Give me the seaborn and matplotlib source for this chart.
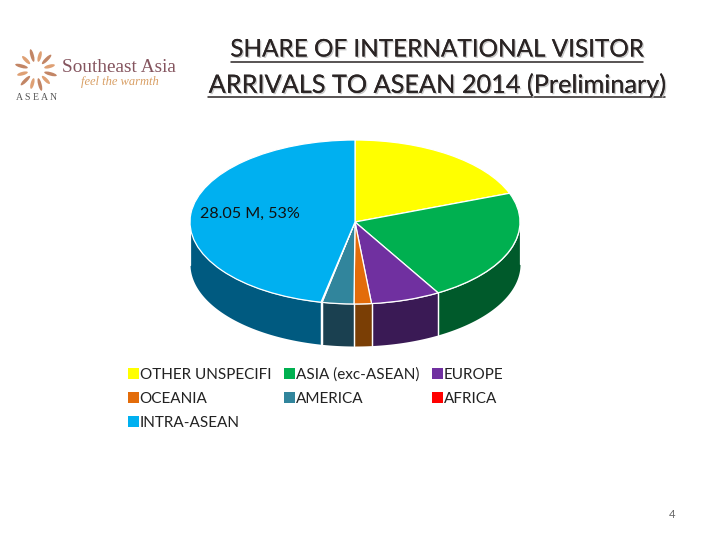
import numpy as np
import matplotlib
matplotlib.use("Agg")
import matplotlib.pyplot as plt
import matplotlib.patheffects as pe
from matplotlib.patches import Ellipse
import seaborn as sns

# ── Data ──────────────────────────────────────────────────────────────────
regions = ['OTHER UNSPECIFI', 'ASIA (exc-ASEAN)', 'EUROPE', 'OCEANIA',
           'AMERICA', 'AFRICA', 'INTRA-ASEAN']
# slice shares as drawn in the picture (3D view squeezes the back slices)
shares = [19.3, 22.3, 6.8, 1.7, 3.1, 0.1, 46.7]
colors = ['#FFFF00', '#00B050', '#7030A0', '#E36C0A', '#31859C', '#FF0000', '#00B0F0']
side_colors = ['#8C8C00', '#005A2B', '#3A1A55', '#7A3E05', '#1A4050', '#7A1010', '#005A80']
slice_label = '28.05 M, 53%'
title_lines = ['SHARE OF INTERNATIONAL VISITOR', 'ARRIVALS TO ASEAN 2014 (Preliminary)']
page_number = '4'

sns.set_theme(style='white')
plt.rcParams['font.family'] = ['Lato', 'DejaVu Sans']

W, H = 720, 540
fig = plt.figure(figsize=(7.2, 5.4), dpi=100, facecolor='white')

# ── Pie: top face plus the walls below it ─────────────────────────────────
cx, cy, rx, ry, depth = 355, 222, 165, 82, 42
xpad, ytop, ybot = 1.1, 1.1, 1.7
ax = fig.add_axes([(cx - rx * xpad) / W, 1 - (cy + ry * ybot) / H,
                   2 * rx * xpad / W, ry * (ytop + ybot) / H])
wedges, _ = ax.pie(shares, colors=colors, startangle=90, counterclock=False,
                   wedgeprops={'edgecolor': 'white', 'linewidth': 0.9, 'zorder': 3})
for w in wedges:
    w.set_zorder(3)
ax.set_aspect('auto')
ax.set_xlim(-xpad, xpad)
ax.set_ylim(-ybot, ytop)
ax.axis('off')

wall = depth / ry
ends = 90 - np.cumsum(shares) * 3.6
starts = np.r_[90, ends[:-1]]
for a0, a1, c in zip(starts, ends, side_colors):
    # visible wall is only the front half of the rim (180..360 deg)
    lo, hi = np.radians(a1 % 360), np.radians(a1 % 360 + (a0 - a1))
    t = np.linspace(lo, hi, 200)
    t = t[np.sin(t) < 0]
    if len(t) < 2:
        continue
    ax.fill_between(np.cos(t), np.sin(t), np.sin(t) - wall, color=c, lw=0, zorder=1)
    for e in (t[0], t[-1]):
        ax.plot([np.cos(e)] * 2, [np.sin(e), np.sin(e) - wall], color='white', lw=0.9, zorder=2)

handles = [wedges[i] for i in (0, 3, 6, 1, 4, 2, 5)]
labels = [regions[i] for i in (0, 3, 6, 1, 4, 2, 5)]
leg = fig.legend(handles, labels, ncol=3, loc='upper left',
                 bbox_to_anchor=(114 / W, 1 - 354 / H), frameon=False, fontsize=11,
                 handlelength=0.72, handleheight=0.72, handletextpad=0.05,
                 columnspacing=0.85, labelspacing=0.66, labelcolor='#222222')
for h in leg.legend_handles:
    h.set_edgecolor('none')

# ── Page furniture in pixel coordinates ───────────────────────────────────
page = fig.add_axes([0, 0, 1, 1], facecolor='none')
page.set_xlim(0, W)
page.set_ylim(H, 0)
page.axis('off')

page.text(250, 214, slice_label, ha='center', va='center', fontsize=11.6, color='#111111')
page.text(672, 515, page_number, ha='center', va='center', fontsize=8, color='#666666')

shadow = [pe.withSimplePatchShadow(offset=(1, -1), shadow_rgbFace='#BBBBBB', alpha=0.8), pe.Normal()]
for line, y, ux, fs in zip(title_lines, (50, 85), ((231, 643), (208, 665)), (17.5, 18.2)):
    page.text(437, y, line, ha='center', va='center', fontsize=fs, color='#2A2424',
              path_effects=shadow)
    page.plot(ux, [y + 12] * 2, color='#2A2424', lw=1.1)

# logo
petal_angles = np.arange(0, 360, 30) + 15
for i, ang in enumerate(petal_angles):
    r = 14 if i % 2 else 15
    px = 36 + r * np.cos(np.radians(ang))
    py = 70 + r * np.sin(np.radians(ang))
    page.add_patch(Ellipse((px, py), 13 if i % 2 == 0 else 11, 3.5, angle=ang,
                           facecolor='#D98F5C' if i % 2 else '#B8704A', edgecolor='none', alpha=0.85))
page.text(62, 68, 'Southeast Asia', ha='left', va='center', fontsize=13.9,
          family='Liberation Serif', color='#84545E')
page.text(120, 82, 'feel the warmth', ha='center', va='center', fontsize=9,
          family='Liberation Serif', style='italic', color='#D9A066')
page.text(36, 97, 'A S E A N', ha='center', va='center', fontsize=7,
          family='Liberation Serif', color='#555555')

fig.savefig('out.png', dpi=100)
